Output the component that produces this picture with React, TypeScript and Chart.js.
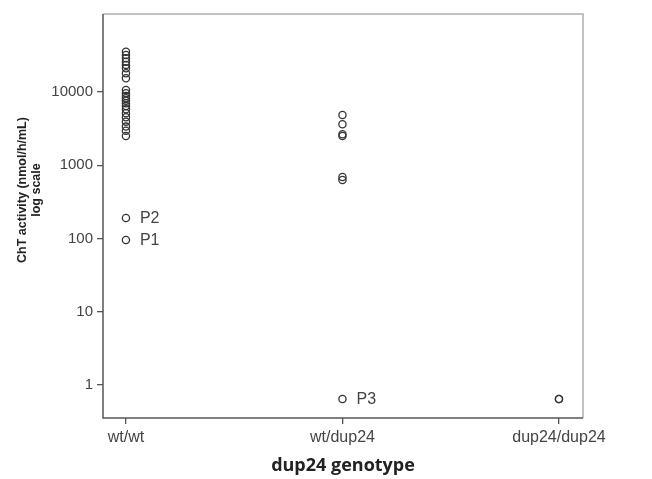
import { useEffect, useRef } from "react";
import { Chart, registerables } from "chart.js";
Chart.register(...registerables);

const categories = ["wt/wt", "wt/dup24", "dup24/dup24"];
const wtWtValues = [35500, 32000, 28900, 25900, 23400, 21100, 18000, 15400, 10650, 9600, 8820, 8200, 7600, 7000, 6430, 5800, 5120, 4510, 3930, 3360, 2960, 2500];
const wtDupValues = [4850, 3620, 2640, 2500, 690, 628];
const dupDupValues = [0.64, 0.64];
const labeledCategories = [0, 0, 1];
const labeledValues = [190, 95, 0.64];
const labeledTexts = ["P2", "P1", "P3"];
const yTickValues = [1, 10, 100, 1000, 10000];
const yTitleLines = ["ChT activity (nmol/h/mL)", "log scale"];
const xTitle = "dup24 genotype";

const FONT = "'Liberation Sans', Arial, sans-serif";

export default function App() {
  const ref = useRef<HTMLCanvasElement | null>(null);
  useEffect(() => {
    if (!ref.current) return;
    const pointStyle = {
      pointRadius: 3.6,
      pointHoverRadius: 3.6,
      pointBorderWidth: 1.3,
      pointBorderColor: "#333",
      pointBackgroundColor: "rgba(0,0,0,0)",
      showLine: false,
    };
    const framePlugin = {
      id: "frame",
      afterDraw(chart: any) {
        const { ctx, chartArea: a } = chart;
        ctx.save();
        ctx.lineWidth = 1.5;
        ctx.strokeStyle = "#b0b0b0";
        ctx.beginPath();
        ctx.moveTo(a.left, a.top);
        ctx.lineTo(a.right, a.top);
        ctx.lineTo(a.right, a.bottom);
        ctx.stroke();
        ctx.strokeStyle = "#555";
        ctx.beginPath();
        ctx.moveTo(a.left, a.top);
        ctx.lineTo(a.left, a.bottom);
        ctx.lineTo(a.right, a.bottom);
        ctx.stroke();
        // y title
        ctx.fillStyle = "#222";
        ctx.font = `bold 12.5px ${FONT}`;
        ctx.textAlign = "center";
        ctx.textBaseline = "middle";
        yTitleLines.forEach((line, i) => {
          ctx.save();
          ctx.translate(23 + i * 14, 190);
          ctx.rotate(-Math.PI / 2);
          ctx.fillText(line, 0, 0);
          ctx.restore();
        });
        // point labels
        const meta = chart.getDatasetMeta(3);
        ctx.fillStyle = "#444";
        ctx.font = `16px ${FONT}`;
        ctx.textAlign = "left";
        meta.data.forEach((el: any, i: number) => {
          ctx.fillText(labeledTexts[i], el.x + 14, el.y + 1);
        });
        ctx.restore();
      },
    };
    const chart = new Chart(ref.current, {
      type: "scatter",
      data: {
        datasets: [
          { data: wtWtValues.map((v) => ({ x: 0, y: v })), ...pointStyle },
          { data: wtDupValues.map((v) => ({ x: 1, y: v })), ...pointStyle },
          { data: dupDupValues.map((v) => ({ x: 2, y: v })), ...pointStyle },
          { data: labeledValues.map((v, i) => ({ x: labeledCategories[i], y: v })), ...pointStyle },
        ],
      },
      options: {
        animation: false,
        responsive: false,
        events: [],
        layout: { padding: { top: 14, right: 69, left: 0, bottom: 0 } },
        plugins: { legend: { display: false }, tooltip: { enabled: false } },
        scales: {
          x: {
            type: "linear",
            min: -0.106,
            max: 2.111,
            afterBuildTicks: (s: any) => {
              s.ticks = categories.map((_, i) => ({ value: i }));
            },
            afterFit: (s: any) => {
              s.height = 61;
            },
            grid: { drawOnChartArea: false, drawTicks: true, tickLength: 6, color: "#555", lineWidth: 1.3 },
            border: { display: false },
            ticks: {
              callback: (v: any) => categories[v as number] ?? "",
              font: { family: FONT, size: 16 },
              color: "#444",
              padding: 4,
              maxRotation: 0,
              autoSkip: false,
            },
            title: {
              display: true,
              text: xTitle,
              font: { family: "'Open Sans', sans-serif", size: 18, weight: "bold" },
              color: "#222",
              padding: { top: 0, bottom: 2 },
            },
          },
          y: {
            type: "logarithmic",
            min: 0.352,
            max: 116000,
            afterBuildTicks: (s: any) => {
              s.ticks = yTickValues.map((v) => ({ value: v }));
            },
            afterFit: (s: any) => {
              s.width = 103;
            },
            grid: { drawOnChartArea: false, drawTicks: true, tickLength: 6, color: "#555", lineWidth: 1.3 },
            border: { display: false },
            ticks: {
              callback: (v: any) => String(v),
              font: { family: FONT, size: 15 },
              color: "#444",
              padding: 4,
              autoSkip: false,
            },
          },
        },
      },
      plugins: [framePlugin],
    } as any);
    return () => chart.destroy();
  }, []);
  return (
    <div style={{ position: "fixed", left: 0, top: 0, width: 652, height: 479, background: "#fff" }}>
      <canvas ref={ref} width={652} height={479} style={{ display: "block" }} />
    </div>
  );
}
